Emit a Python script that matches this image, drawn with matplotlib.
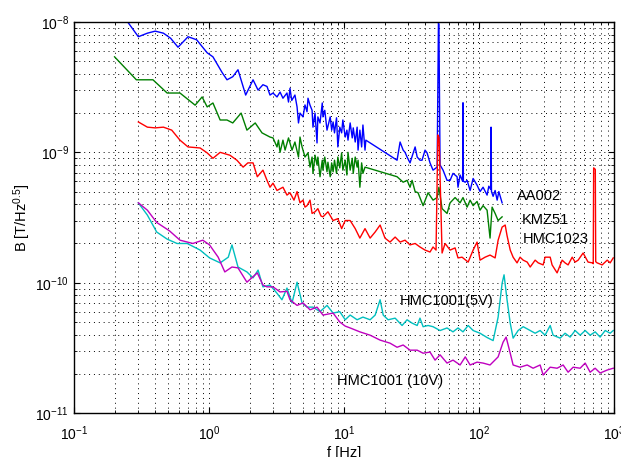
import matplotlib
matplotlib.use('Agg')
import matplotlib.pyplot as plt

plt.rcParams['font.family'] = ['Liberation Sans', 'DejaVu Sans']
plt.rcParams['mathtext.fontset'] = 'custom'
plt.rcParams['mathtext.rm'] = 'Liberation Sans'
plt.rcParams['mathtext.it'] = 'Liberation Sans:italic'

# AA002
f_aa = [0.25, 0.30, 0.35, 0.40, 0.46, 0.52, 0.59, 0.70, 0.81, 0.97, 1.07, 1.25, 1.36, 1.50,
        1.64, 1.87, 2.12, 2.31, 2.51, 2.69, 2.83, 2.98, 3.19, 3.36, 3.53, 3.78, 3.88, 3.98,
        4.1, 4.33, 4.49, 4.6, 4.72, 4.97, 5.14, 5.32, 5.41, 5.6, 5.8, 5.89, 6.1, 6.31, 6.4,
        6.64, 6.9, 6.98, 7.2, 7.48, 7.9, 8.1, 8.3, 8.5, 8.8, 9.0, 9.3, 9.6, 9.8, 10.2, 10.5,
        10.7, 11.1, 11.5, 11.7, 12.1, 12.5, 12.7, 13.1, 13.5, 13.8, 14.3, 14.5,
        24.7, 26.0, 27.4, 28.3, 29.3, 30.8, 33.6, 34.8, 36.5, 37.8, 39.8, 41.2, 43.3, 45.6,
        48.9, 50.0, 50.4, 51.4, 54.1, 57.9, 61.0, 64.1, 68.7, 69.8, 72.3, 75.5, 76.0, 76.5,
        79.0, 81.5, 85.8, 90.3, 96.6, 101.6, 107, 114.6, 118, 122, 122.6, 123.5, 127, 131.4,
        136, 140, 148]
b_aa = [1.0e-8, 7.7e-9, 8.2e-9, 8.5e-9, 8.2e-9, 7.5e-9, 6.4e-9, 7.7e-9, 7.3e-9, 5.8e-9,
        5.4e-9, 4.1e-9, 3.6e-9, 3.8e-9, 4.3e-9, 2.75e-9, 3.6e-9, 3.0e-9, 3.3e-9, 3.2e-9,
        2.75e-9, 2.85e-9, 2.66e-9, 2.9e-9, 2.6e-9, 2.85e-9, 2.43e-9, 3.1e-9, 2.5e-9, 2.75e-9,
        2.23e-9, 1.68e-9, 2.0e-9, 1.87e-9, 2.31e-9, 2.05e-9, 2.6e-9, 2.3e-9, 2.1e-9, 1.56e-9,
        2.0e-9, 1.18e-9, 1.87e-9, 1.68e-9, 2.39e-9, 1.87e-9, 2.1e-9, 1.48e-9, 1.87e-9,
        1.48e-9, 1.71e-9, 1.41e-9, 1.84e-9, 1.10e-9, 1.56e-9, 1.41e-9, 1.77e-9, 1.31e-9,
        1.48e-9, 1.24e-9, 1.68e-9, 1.29e-9, 1.54e-9, 1.2e-9, 1.56e-9, 1.04e-9, 1.48e-9,
        1.10e-9, 1.62e-9, 1.04e-9, 1.24e-9,
        8.7e-10, 1.2e-9, 1.04e-9, 1.0e-9, 9.2e-10, 8.3e-10, 1.1e-9, 9.2e-10, 8.7e-10, 8.7e-10,
        1.04e-9, 9.9e-10, 8.3e-10, 7.3e-10, 7.7e-10, 9.8e-9, 9.6e-9, 8.0e-10, 7.3e-10, 6.1e-10,
        6.1e-10, 6.9e-10, 6.5e-10, 5.4e-10, 6.7e-10, 6.0e-10, 2.4e-9, 6.0e-10, 5.9e-10,
        6.1e-10, 5.1e-10, 6.3e-10, 5.6e-10, 5.0e-10, 5.4e-10, 4.7e-10, 5.5e-10, 5.2e-10,
        1.56e-9, 5.0e-10, 4.6e-10, 5.1e-10, 4.3e-10, 5.0e-10, 4.1e-10]

# KMZ51
f_kmz = [0.20, 0.29, 0.385, 0.49, 0.61, 0.79, 0.89, 0.97, 1.07, 1.21, 1.36, 1.5, 1.73, 1.91,
         2.2, 2.47, 2.83, 2.98, 3.19, 3.27, 3.36, 3.53, 3.66, 3.88, 4.12, 4.33, 4.6, 4.72,
         4.89, 5.14, 5.41, 5.6, 5.8, 5.89, 6.1, 6.31, 6.4, 6.64, 6.9, 6.98, 7.2, 7.48, 7.6,
         7.9, 8.1, 8.3, 8.5, 8.8, 9.0, 9.3, 9.6, 9.8, 10.2, 10.5, 10.7, 11.1, 11.5, 11.7,
         12.1, 12.5, 12.7, 13.1, 13.5, 13.8, 14.3,
         24.7, 27.4, 29.3, 30.8, 31.9, 33.6, 35.3, 38.5, 41.9, 45.6, 48.9, 50.4, 53.2, 57.9,
         61.0, 66.4, 72.3, 76, 81.5, 85.8, 90.3, 96.6, 101.6, 107, 114.6, 120.5, 124.8, 131.4,
         138.3, 148]
b_kmz = [5.4e-9, 3.6e-9, 3.6e-9, 2.85e-9, 2.85e-9, 2.3e-9, 2.66e-9, 2.23e-9, 2.39e-9,
         1.77e-9, 1.77e-9, 1.68e-9, 2.0e-9, 1.48e-9, 1.68e-9, 1.41e-9, 1.31e-9, 1.29e-9,
         1.10e-9, 1.24e-9, 1.0e-9, 1.24e-9, 1.04e-9, 1.29e-9, 1.04e-9, 1.2e-9, 9.2e-10,
         1.31e-9, 1.1e-9, 9.2e-10, 9.9e-10, 7.7e-10, 9.2e-10, 6.9e-10, 9.5e-10, 8.0e-10,
         9.2e-10, 6.5e-10, 8.7e-10, 7.3e-10, 9.2e-10, 7.1e-10, 8.4e-10, 6.5e-10, 8.3e-10,
         7.1e-10, 8.7e-10, 6.9e-10, 9.2e-10, 7.6e-10, 9.9e-10, 7.3e-10, 8.7e-10, 6.7e-10,
         1.0e-9, 7.3e-10, 9.0e-10, 6.9e-10, 9.2e-10, 7.7e-10, 8.7e-10, 5.4e-10, 8.3e-10,
         6.9e-10, 7.7e-10,
         6.5e-10, 5.9e-10, 6.1e-10, 5.4e-10, 6.1e-10, 5.0e-10, 4.9e-10, 3.9e-10, 4.9e-10,
         4.3e-10, 4.5e-10, 5.4e-10, 3.7e-10, 3.4e-10, 4.1e-10, 4.5e-10, 4.1e-10, 4.5e-10,
         3.8e-10, 4.3e-10, 3.9e-10, 4.2e-10, 3.6e-10, 3.9e-10, 3.6e-10, 2.2e-10, 3.8e-10,
         3.4e-10, 3.0e-10, 3.2e-10]

# HMC1023
f_1023 = [0.30, 0.35, 0.40, 0.46, 0.53, 0.61, 0.70, 0.86, 0.97, 1.07, 1.21, 1.43, 1.61, 1.79,
          1.94, 2.12, 2.28, 2.51, 2.69, 2.83, 2.98, 3.19, 3.53, 3.78, 3.98, 4.26, 4.49, 4.72,
          4.97, 5.14, 5.32, 5.6, 5.8, 6.1, 6.4, 6.75, 6.98, 7.6, 8.3, 9.0, 9.6, 10.2, 11.1,
          12.1, 13.1, 14.3, 15.6, 17.0, 18.5, 20.1, 21.9, 23.9, 26.0, 28.3, 30.8, 33.6, 36.5,
          39.8, 43.3, 45.6, 48.0, 49.5, 50.5, 53.2, 56.0, 61.0, 66.4, 69.8, 74.8, 83, 90.3,
          96.6, 101.6, 110.7, 120.5, 131.4, 138.3, 148, 156, 161, 170, 178.6, 191, 201, 212,
          227, 239, 260, 274, 298, 308, 336, 347, 378, 412, 433, 456, 489, 514, 541, 589, 641,
          690, 700, 705, 725, 730, 748, 815, 888, 934, 984]
b_1023 = [1.71e-9, 1.56e-9, 1.54e-9, 1.56e-9, 1.48e-9, 1.24e-9, 1.10e-9, 1.08e-9, 9.9e-10,
          9.0e-10, 1.0e-9, 9.5e-10, 8.7e-10, 7.7e-10, 8.3e-10, 8.3e-10, 6.5e-10, 7.3e-10,
          6.1e-10, 5.4e-10, 5.8e-10, 5.1e-10, 5.4e-10, 4.7e-10, 4.9e-10, 4.3e-10, 5.0e-10,
          4.1e-10, 4.3e-10, 3.8e-10, 3.9e-10, 4.3e-10, 3.4e-10, 3.5e-10, 3.7e-10, 3.25e-10,
          3.2e-10, 3.5e-10, 3.0e-10, 3.1e-10, 2.6e-10, 3.0e-10, 3.0e-10, 2.6e-10, 2.2e-10,
          2.6e-10, 2.2e-10, 2.45e-10, 2.77e-10, 2.2e-10, 2.05e-10, 2.24e-10, 2.05e-10,
          2.12e-10, 1.95e-10, 2.0e-10, 1.88e-10, 1.78e-10, 1.72e-10, 1.88e-10, 1.78e-10,
          1.36e-9, 1.3e-9, 1.69e-10, 2.0e-10, 1.78e-10, 1.85e-10, 1.55e-10, 1.57e-10,
          1.44e-10, 1.78e-10, 2.05e-10, 1.49e-10, 1.57e-10, 1.63e-10, 1.55e-10, 2.12e-10,
          2.67e-10, 2.77e-10, 2.3e-10, 1.78e-10, 1.57e-10, 1.42e-10, 1.57e-10, 1.49e-10,
          1.44e-10, 1.32e-10, 1.49e-10, 1.42e-10, 1.37e-10, 1.57e-10, 1.57e-10, 1.37e-10,
          1.19e-10, 1.49e-10, 1.42e-10, 1.37e-10, 1.57e-10, 1.44e-10, 1.49e-10, 1.69e-10,
          1.44e-10, 1.42e-10, 1.4e-10, 7.6e-10, 7.4e-10, 1.45e-10, 1.42e-10, 1.37e-10,
          1.49e-10, 1.42e-10, 1.55e-10]

# HMC1001 (5V)
f_5v = [0.30, 0.35, 0.41, 0.49, 0.58, 0.69, 0.86, 1.01, 1.21, 1.39, 1.48, 1.64, 1.91, 2.12,
        2.31, 2.51, 2.83, 3.19, 3.47, 3.78, 4.12, 4.49, 4.89, 5.32, 5.89, 6.64, 7.48, 8.3,
        9.3, 10.2, 11.1, 12.5, 13.8, 15.6, 17.0, 18.5, 19.5, 21.2, 23.9, 26.9, 29.3, 31.9,
        34.8, 36.5, 38.5, 41.9, 45.6, 51.4, 57.9, 64.1, 69.8, 76, 83, 90.3, 101.6, 114.6, 127,
        138.3, 148, 153, 161, 170, 178.6, 194.5, 212, 239, 260, 283, 308, 336, 353, 398, 433,
        472, 514, 560, 610, 664, 723, 787, 858, 934, 984]
b_5v = [4.1e-10, 3.3e-10, 2.45e-10, 2.16e-10, 2.0e-10, 2.0e-10, 1.78e-10, 1.55e-10, 1.42e-10,
        1.57e-10, 1.95e-10, 1.32e-10, 1.21e-10, 1.09e-10, 1.25e-10, 9.3e-11, 9.6e-11, 8.3e-11,
        7.4e-11, 9.1e-11, 7.0e-11, 1.01e-10, 7.0e-11, 6.5e-11, 6.5e-11, 6.0e-11, 6.7e-11,
        5.85e-11, 6.0e-11, 5.2e-11, 5.65e-11, 5.2e-11, 5.45e-11, 5.2e-11, 5.65e-11, 7.4e-11,
        5.65e-11, 5.2e-11, 5.35e-11, 4.7e-11, 5.2e-11, 4.9e-11, 4.7e-11, 5.35e-11, 4.6e-11,
        4.7e-11, 4.6e-11, 4.3e-11, 4.5e-11, 4.2e-11, 4.5e-11, 4.2e-11, 4.7e-11, 4.3e-11,
        4.1e-11, 3.8e-11, 3.6e-11, 5.45e-11, 9.9e-11, 1.15e-10, 7.4e-11, 4.9e-11, 3.76e-11,
        4.3e-11, 4.6e-11, 4.3e-11, 4.1e-11, 4.3e-11, 3.96e-11, 4.7e-11, 3.96e-11, 3.76e-11,
        4.1e-11, 3.83e-11, 4.3e-11, 3.96e-11, 4.3e-11, 3.96e-11, 4.2e-11, 3.83e-11, 4.3e-11,
        4.1e-11, 4.3e-11]

# HMC1001 (10V)
f_10v = [0.30, 0.35, 0.41, 0.51, 0.61, 0.76, 0.90, 1.01, 1.17, 1.31, 1.48, 1.64, 1.91, 2.28,
         2.51, 2.69, 2.98, 3.36, 3.78, 3.98, 4.49, 4.97, 5.6, 6.31, 6.98, 8.3, 9.3, 10.2,
         11.1, 13.1, 15.6, 18.5, 21.9, 24.7, 27.4, 30.8, 34.8, 38.5, 43.3, 47.2, 51.4, 57.9,
         64.1, 72.3, 79, 85.8, 96.6, 107, 120.5, 138.3, 150.5, 158.5, 170, 178.6, 201, 227,
         251, 283, 298, 336, 378, 419, 456, 497, 560, 610, 664, 723, 787, 888, 984]
b_10v = [4.1e-10, 3.6e-10, 2.9e-10, 2.5e-10, 2.12e-10, 2.0e-10, 2.12e-10, 1.95e-10, 1.57e-10,
         1.21e-10, 1.32e-10, 1.30e-10, 1.01e-10, 1.19e-10, 9.6e-11, 9.3e-11, 9.3e-11, 8.5e-11,
         8.6e-11, 7.4e-11, 6.7e-11, 7.0e-11, 6.2e-11, 6.5e-11, 5.65e-11, 5.85e-11, 5.0e-11,
         4.65e-11, 4.5e-11, 4.2e-11, 3.96e-11, 3.63e-11, 3.44e-11, 3.2e-11, 3.33e-11,
         3.04e-11, 3.04e-11, 2.88e-11, 2.94e-11, 2.55e-11, 2.8e-11, 2.42e-11, 2.55e-11,
         2.34e-11, 2.7e-11, 2.34e-11, 2.46e-11, 2.42e-11, 2.34e-11, 2.7e-11, 3.5e-11,
         3.83e-11, 2.88e-11, 2.34e-11, 2.25e-11, 2.34e-11, 2.21e-11, 2.34e-11, 1.96e-11,
         2.25e-11, 2.21e-11, 2.34e-11, 2.06e-11, 2.25e-11, 2.21e-11, 2.42e-11, 2.06e-11,
         2.21e-11, 2.03e-11, 2.14e-11, 2.21e-11]

fig = plt.figure(figsize=(6.21, 4.57), dpi=100, facecolor='w')
ax = fig.add_axes([0.119, 0.096, 0.87, 0.856])

ax.loglog(f_aa, b_aa, color='#0000ff', lw=1.0)
ax.loglog(f_kmz, b_kmz, color='#007f00', lw=1.0)
ax.loglog(f_1023, b_1023, color='#ff0000', lw=1.0)
ax.loglog(f_5v, b_5v, color='#00bfbf', lw=1.0)
ax.loglog(f_10v, b_10v, color='#bf00bf', lw=1.0)

ax.set_xlim(0.1, 1000)
ax.set_ylim(1e-11, 1e-8)

ax.grid(True, which='both', color='k', linestyle=(0, (1, 4)), lw=0.7)
ax.tick_params(which='both', direction='in', top=True, right=True, labelsize=10)
ax.tick_params(axis='x', which='major', pad=8)
ax.tick_params(which='major', length=4)
ax.tick_params(which='minor', length=2)
for s in ax.spines.values():
    s.set_linewidth(1.0)

ax.set_xlabel('f [Hz]', fontsize=10.5, labelpad=2)
ax.set_ylabel('B [T/Hz$^{0.5}$]', fontsize=10.5, labelpad=2)

ax.text(191, 4.3e-10, 'AA002', fontsize=10.5)
ax.text(208, 2.82e-10, 'KMZ51', fontsize=10.5)
ax.text(212, 2.0e-10, 'HMC1023', fontsize=10.5)
ax.text(26.0, 6.7e-11, 'HMC1001(5V)', fontsize=10.5)
ax.text(8.9, 1.64e-11, 'HMC1001 (10V)', fontsize=10.5)

fig.savefig('out.png', dpi=100)
